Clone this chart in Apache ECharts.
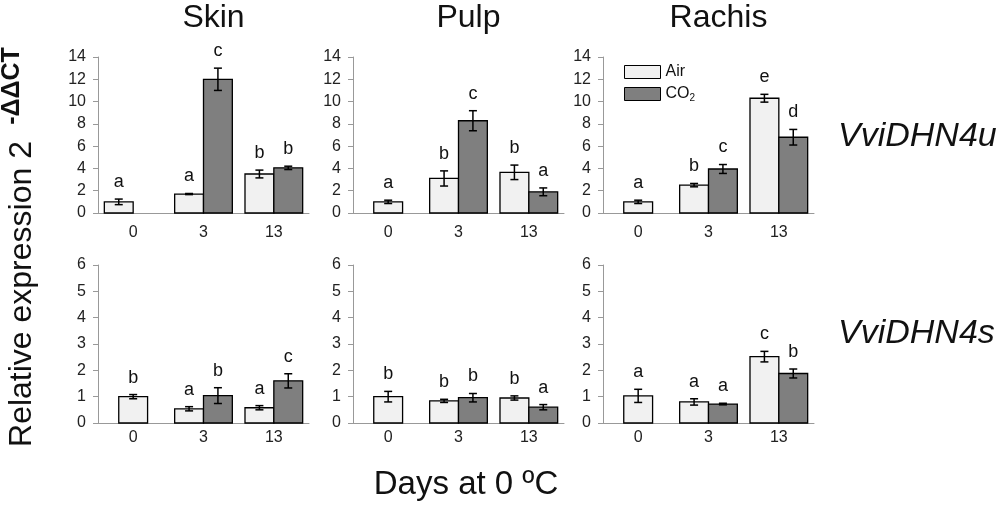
<!DOCTYPE html>
<html>
<head>
<meta charset="utf-8">
<script src="https://cdn.jsdelivr.net/npm/echarts@6/dist/echarts.min.js"></script>
<style>
  html, body { margin: 0; padding: 0; background: #fff; }
  #chart { width: 1000px; height: 508px; }
</style>
</head>
<body>
<div id="chart"></div>
<script>
const days = ["0", "3", "13"];
const tissues = ["Skin", "Pulp", "Rachis"];
const genes = ["VviDHN4u", "VviDHN4s"];
const yMax = [14, 6];
const yStep = [2, 1];

// VviDHN4u (top row)
const skinU_air = [1.0, 1.7, 3.5];
const skinU_airErr = [0.25, 0.05, 0.35];
const skinU_co2 = [0, 12.0, 4.05];
const skinU_co2Err = [0, 1.0, 0.15];
const skinU_airLetters = ["a", "a", "b"];
const skinU_co2Letters = ["", "c", "b"];

const pulpU_air = [1.0, 3.1, 3.65];
const pulpU_airErr = [0.15, 0.68, 0.65];
const pulpU_co2 = [null, 8.28, 1.9];
const pulpU_co2Err = [0, 0.9, 0.35];
const pulpU_airLetters = ["a", "b", "b"];
const pulpU_co2Letters = ["", "c", "a"];

const rachisU_air = [1.0, 2.5, 10.3];
const rachisU_airErr = [0.15, 0.15, 0.35];
const rachisU_co2 = [null, 3.95, 6.8];
const rachisU_co2Err = [0, 0.4, 0.7];
const rachisU_airLetters = ["a", "b", "e"];
const rachisU_co2Letters = ["", "c", "d"];

// VviDHN4s (bottom row)
const skinS_air = [1.0, 0.54, 0.58];
const skinS_airErr = [0.08, 0.08, 0.08];
const skinS_co2 = [null, 1.04, 1.6];
const skinS_co2Err = [0, 0.3, 0.27];
const skinS_airLetters = ["b", "a", "a"];
const skinS_co2Letters = ["", "b", "c"];

const pulpS_air = [1.0, 0.84, 0.95];
const pulpS_airErr = [0.2, 0.06, 0.08];
const pulpS_co2 = [null, 0.96, 0.6];
const pulpS_co2Err = [0, 0.16, 0.1];
const pulpS_airLetters = ["b", "b", "b"];
const pulpS_co2Letters = ["", "b", "a"];

const rachisS_air = [1.03, 0.8, 2.52];
const rachisS_airErr = [0.25, 0.12, 0.2];
const rachisS_co2 = [null, 0.72, 1.88];
const rachisS_co2Err = [0, 0.03, 0.17];
const rachisS_airLetters = ["a", "a", "c"];
const rachisS_co2Letters = ["", "a", "b"];

const panels = [
  [skinU_air, skinU_airErr, skinU_co2, skinU_co2Err, skinU_airLetters, skinU_co2Letters],
  [pulpU_air, pulpU_airErr, pulpU_co2, pulpU_co2Err, pulpU_airLetters, pulpU_co2Letters],
  [rachisU_air, rachisU_airErr, rachisU_co2, rachisU_co2Err, rachisU_airLetters, rachisU_co2Letters],
  [skinS_air, skinS_airErr, skinS_co2, skinS_co2Err, skinS_airLetters, skinS_co2Letters],
  [pulpS_air, pulpS_airErr, pulpS_co2, pulpS_co2Err, pulpS_airLetters, pulpS_co2Letters],
  [rachisS_air, rachisS_airErr, rachisS_co2, rachisS_co2Err, rachisS_airLetters, rachisS_co2Letters],
];

const FONT = "'Liberation Sans', Arial, sans-serif";
const AIR_COLOR = "#f1f1f1";
const CO2_COLOR = "#7f7f7f";
const gridLeft = [98, 353, 603];
const gridWidth = 211;
const gridTop = [57, 265];
const gridHeight = [156, 158];

const chart = echarts.init(document.getElementById("chart"));

const grids = [], xAxes = [], yAxes = [], series = [];

panels.forEach((p, k) => {
  const row = Math.floor(k / 3);
  const col = k % 3;
  const [air, airErr, co2, co2Err, airLet, co2Let] = p;

  grids.push({ left: gridLeft[col], top: gridTop[row], width: gridWidth, height: gridHeight[row] });
  xAxes.push({
    type: "category",
    gridIndex: k,
    data: days,
    axisLine: { lineStyle: { color: "#999", width: 1 } },
    axisTick: { length: 5, lineStyle: { color: "#999" } },
    axisLabel: { color: "#222", fontSize: 16, fontFamily: FONT, margin: row === 0 ? 12 : 7 },
  });
  yAxes.push({
    type: "value",
    gridIndex: k,
    min: 0,
    max: yMax[row],
    interval: yStep[row],
    splitLine: { show: false },
    axisLine: { show: true, lineStyle: { color: "#999", width: 1 } },
    axisTick: { show: true, length: 5, lineStyle: { color: "#999" } },
    axisLabel: { color: "#222", fontSize: 16, fontFamily: FONT, margin: 12 },
  });

  // one custom series per treatment: bar + error bar + letter
  const makeSeries = (name, vals, errs, letters, isAir, color) => ({
    type: "custom",
    name: name,
    xAxisIndex: k,
    yAxisIndex: k,
    itemStyle: { color: color, borderColor: "#000", borderWidth: 1.2 },
    encode: { x: 0, y: 1 },
    data: vals.map((v, i) => [i, v == null ? 0 : v, errs[i], v == null ? 0 : 1]),
    renderItem: (params, api) => {
      const i = api.value(0);
      const present = api.value(3);
      if (!present) return;
      const v = api.value(1);
      const e = api.value(2);
      const band = api.size([1, 0])[0];
      const barW = band * 0.41;
      const paired = co2[i] != null;
      const base = api.coord([i, 0]);
      let cx = base[0];
      if (paired) cx += isAir ? -barW / 2 : barW / 2;
      const top = api.coord([i, v]);
      const children = [];
      if (v > 0) {
        children.push({
          type: "rect",
          shape: { x: cx - barW / 2, y: top[1], width: barW, height: base[1] - top[1] },
          style: { fill: color, stroke: "#000", lineWidth: 1.3 },
        });
        const hi = api.coord([i, v + e])[1];
        const lo = api.coord([i, v - e])[1];
        const cap = 4;
        const es = { stroke: "#000", lineWidth: 1.5 };
        children.push(
          { type: "line", shape: { x1: cx, y1: hi, x2: cx, y2: lo }, style: es },
          { type: "line", shape: { x1: cx - cap, y1: hi, x2: cx + cap, y2: hi }, style: es },
          { type: "line", shape: { x1: cx - cap, y1: lo, x2: cx + cap, y2: lo }, style: es }
        );
        if (letters[i]) {
          children.push({
            type: "text",
            x: cx,
            y: hi - 17,
            style: {
              text: letters[i],
              fontSize: 18,
              fontFamily: FONT,
              fill: "#111",
              align: "center",
              verticalAlign: "middle",
            },
          });
        }
      }
      return { type: "group", children: children };
    },
    z: 3,
  });

  series.push(makeSeries("Air", air, airErr, airLet, true, AIR_COLOR));
  series.push(makeSeries("CO2", co2, co2Err, co2Let, false, CO2_COLOR));
});

const graphics = [];
tissues.forEach((t, c) => {
  graphics.push({
    type: "text",
    x: gridLeft[c] + gridWidth / 2 + 10,
    y: 18,
    style: { text: t, fontSize: 32, fontFamily: FONT, fill: "#111", align: "center", verticalAlign: "middle" },
  });
});
genes.forEach((g, r) => {
  graphics.push({
    type: "text",
    x: 838,
    y: r === 0 ? 137 : 334,
    style: { text: g, fontSize: 34, fontStyle: "italic", fontFamily: FONT, fill: "#111", align: "left", verticalAlign: "middle" },
  });
});
graphics.push({
  type: "text",
  x: 22,
  y: 294,
  rotation: Math.PI / 2,
  style: { text: "Relative expression 2", fontSize: 32, fontFamily: FONT, fill: "#111", align: "center", verticalAlign: "middle" },
});
graphics.push({
  type: "text",
  x: 12,
  y: 86,
  rotation: Math.PI / 2,
  style: { text: "-ΔΔCT", fontSize: 25, fontWeight: "bold", fontFamily: FONT, fill: "#111", align: "center", verticalAlign: "middle" },
});
graphics.push({
  type: "text",
  x: 466,
  y: 485,
  style: { text: "Days at 0 ºC", fontSize: 33, fontFamily: FONT, fill: "#111", align: "center", verticalAlign: "middle" },
});

chart.setOption({
  animation: false,
  backgroundColor: "#fff",
  grid: grids,
  xAxis: xAxes,
  yAxis: yAxes,
  series: series,
  graphic: graphics,
  legend: {
    data: ["Air", "CO2"],
    orient: "vertical",
    left: 619,
    top: 59,
    itemWidth: 36,
    itemHeight: 13,
    itemGap: 5,
    icon: "rect",
    selectedMode: false,
    textStyle: {
      fontSize: 16,
      fontFamily: FONT,
      color: "#111",
      rich: {
        m: { fontSize: 16, fontFamily: FONT, color: "#111", lineHeight: 18 },
        s: { fontSize: 10, fontFamily: FONT, color: "#111", lineHeight: 18, verticalAlign: "bottom", padding: [8, 0, 0, 0] },
      },
    },
    itemStyle: { borderColor: "#000", borderWidth: 1 },
    formatter: (name) => (name === "CO2" ? "{m|CO}{s|2}" : "{m|" + name + "}"),
  },
});
</script>
</body>
</html>
